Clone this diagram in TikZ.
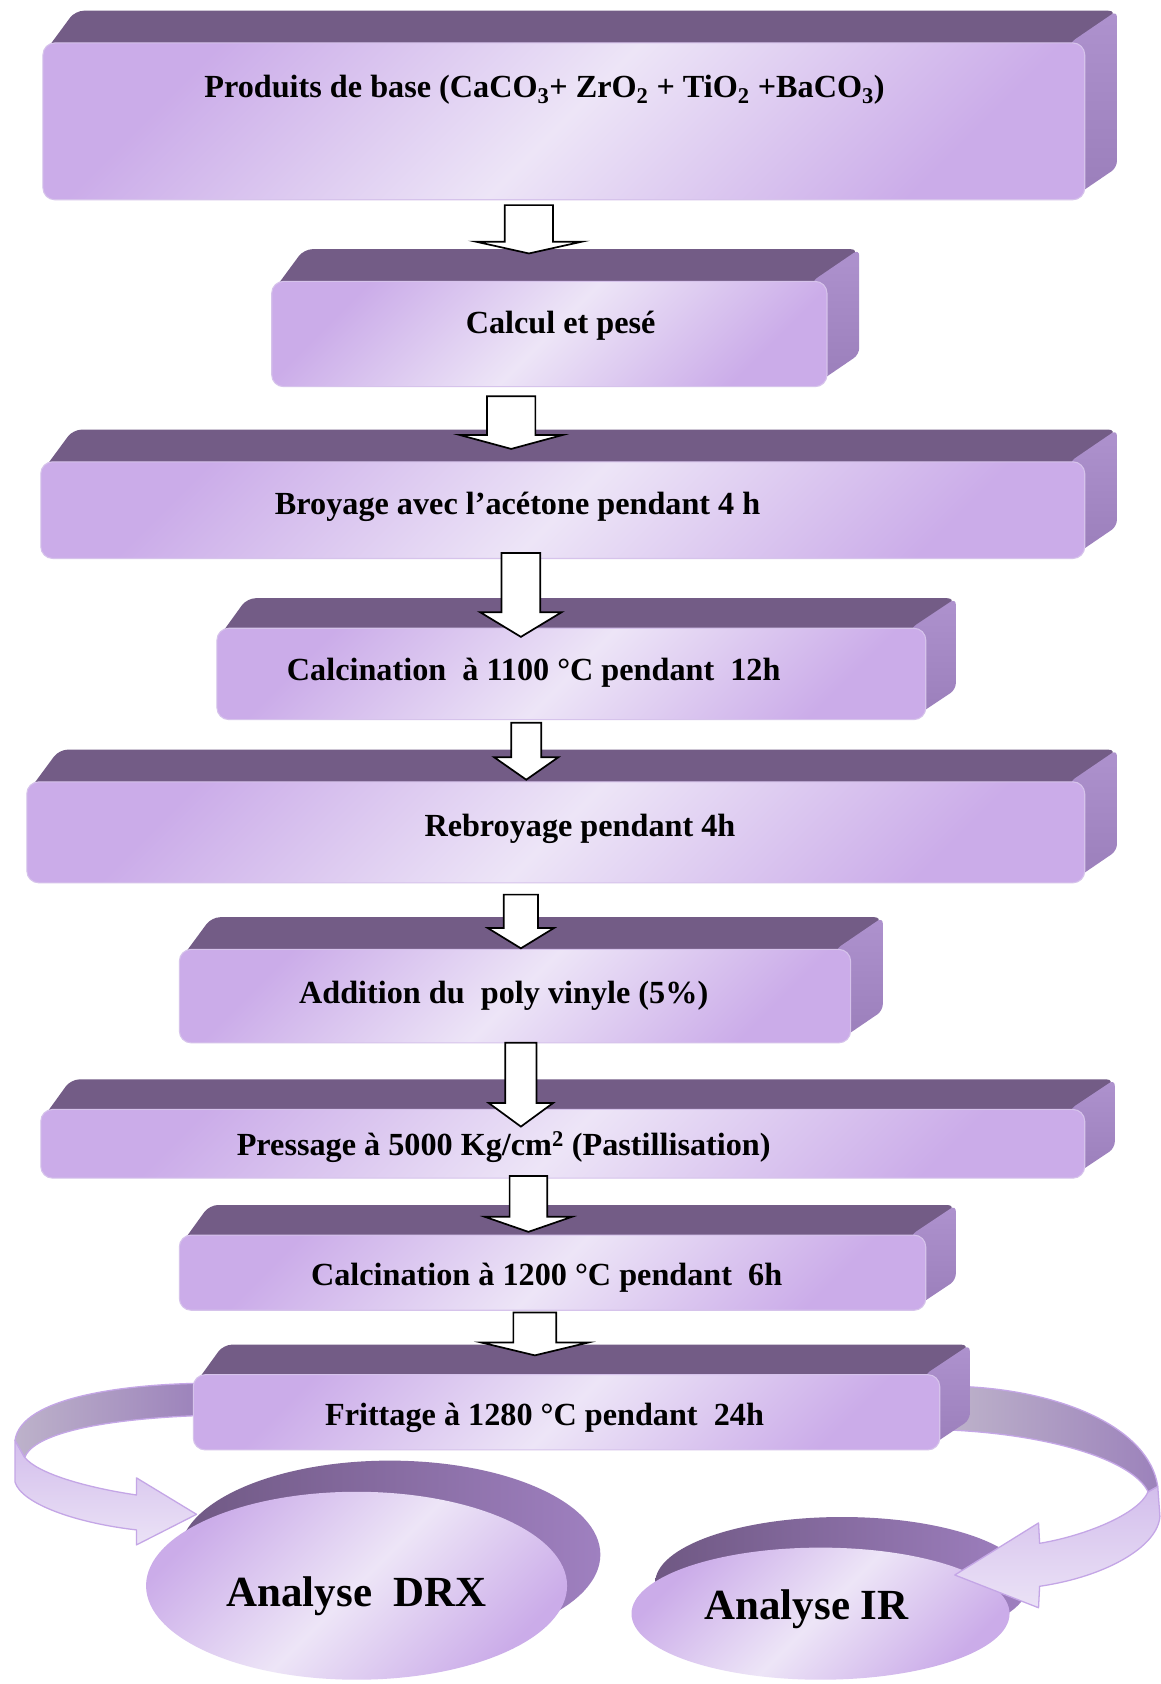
\documentclass[tikz,border=0pt]{standalone}
\usepackage{fontspec}
\setmainfont{Liberation Serif}
\usetikzlibrary{shapes.geometric}
\definecolor{topc}{HTML}{735C86}
\definecolor{sidea}{HTML}{AE92CE}
\definecolor{sideb}{HTML}{9A7EBA}
\definecolor{pu}{HTML}{CBACE9}
\definecolor{lt}{HTML}{EDE5F7}
\definecolor{edgec}{HTML}{D6C3EB}
\definecolor{ribg}{HTML}{BDB2CA}
\definecolor{ribp}{HTML}{9C82BB}
\definecolor{ribt}{HTML}{D3BEEC}
\definecolor{ribb}{HTML}{EBE2F6}
\definecolor{ribe}{HTML}{C4A6E6}
\definecolor{dbl}{HTML}{6F5883}
\definecolor{dbr}{HTML}{9F80C0}
\tikzset{
 topface/.style={fill=topc, rounded corners=8pt},
 sideface/.style={top color=sidea, bottom color=sideb, rounded corners=6pt},
 frontface/.style={rectangle, rounded corners=11pt, left color=pu, right color=pu, middle color=lt, shading angle=45, draw=edgec, line width=1pt, inner sep=0pt},
 lbl/.style={font=\fontsize{30}{36}\selectfont\bfseries, inner sep=0pt},
 biglbl/.style={font=\fontsize{40}{48}\selectfont\bfseries, inner sep=0pt, anchor=base},
 barr/.style={draw=black, fill=white, line width=1.6pt, line join=miter},
 ribup/.style={left color=ribg, right color=ribp, draw=ribe, line width=1.2pt, line join=round},
 riblow/.style={top color=ribt, bottom color=ribb, draw=ribe, line width=1.2pt, line join=round},
 discback/.style={ellipse, left color=dbl, right color=dbr, inner sep=0pt},
 discfront/.style={ellipse, left color=pu, right color=pu, middle color=lt, shading angle=45, inner sep=0pt}
}
% #1 name, #2 x1, #3 y1, #4 x2, #5 y2, #6 depth
\newcommand\mkslab[6]{%
 \path[topface] ({#2+2},{#3+8}) -- ({#2+#6},{#3-#6}) -- ({#4+#6},{#3-#6}) -- ({#4-6},{#3+8}) -- cycle;
 \path[sideface] ({#4-14},{#3}) -- ({#4+#6},{#3-#6}) -- ({#4+#6},{#5-#6}) -- ({#4-14},{#5}) -- cycle;
 \node[frontface, minimum width={#4-#2}, minimum height={#5-#3}] (#1) at ({(#2+#4)/2},{(#3+#5)/2}) {};
}
% #1 cx, #2 ytop, #3 yhead, #4 ytip, #5 half shaft, #6 half head
\newcommand\mkarrow[6]{%
 \draw[barr] ({#1-#5},{#2}) -- ({#1+#5},{#2}) -- ({#1+#5},{#3}) -- ({#1+#6},{#3}) -- ({#1},{#4}) -- ({#1-#6},{#3}) -- ({#1-#5},{#3}) -- cycle;
}
\begin{document}
\begin{tikzpicture}[x=1pt,y=-1pt]
\useasboundingbox (0,0) rectangle (1081,1568);
\fill[white] (0,0) rectangle (1081,1568);

% analysis discs
\node[discback, minimum width=392, minimum height=175] (drxb) at (363,1447.5) {};
\node[discfront, minimum width=392, minimum height=175] (drx) at (332,1476.5) {};
\node[biglbl] (tdrx) at (332,1496) {Analyse~ DRX};
\node[discback, minimum width=348, minimum height=123] (irb) at (784,1474) {};
\node[discfront, minimum width=352, minimum height=123] (ir) at (764,1502.5) {};
\node[biglbl] (tir) at (751,1508) {Analyse IR};

% ribbon arrows (left: to DRX)
\path[riblow] (14,1341) -- (14,1380) .. controls (20,1400) and (70,1418) .. (127,1424.5)
  -- (127,1438.5) -- (183,1410) -- (127,1376) -- (127,1392)
  .. controls (80,1385) and (35,1372) .. (23,1357) -- cycle;
\path[ribup] (186,1288) .. controls (120,1289) and (20,1300) .. (14,1341)
  -- (23,1357) .. controls (30,1338) and (80,1322) .. (186,1318) -- cycle;
% ribbon arrows (right: to IR)
\path[riblow] (1078,1384) -- (1080,1412) .. controls (1078,1440) and (1030,1468) .. (968,1477)
  -- (967,1497) -- (889,1466.5) -- (967,1418) -- (968,1437)
  .. controls (1010,1430) and (1060,1410) .. (1069,1389) -- cycle;
\path[ribup] (897,1291) .. controls (990,1295) and (1070,1330) .. (1078,1384)
  -- (1069,1389) .. controls (1055,1360) and (980,1336) .. (885,1331.5) -- cycle;

% slabs
\mkslab{b1}{40}{40}{1010}{186}{30}
\mkslab{b2}{253}{262}{770}{360}{30}
\mkslab{b3}{38}{430}{1010}{520}{30}
\mkslab{b4}{202}{585}{862}{670}{28}
\mkslab{b5}{25}{728}{1010}{822}{30}
\mkslab{b6}{167}{884}{792}{971}{30}
\mkslab{b7}{38}{1033}{1010}{1097}{28}
\mkslab{b8}{167}{1150}{862}{1220}{28}
\mkslab{b9}{180}{1280}{875}{1350}{28}

% labels
\node[lbl] (t1) at (507,84) {Produits de base (CaCO\textsubscript{3}+ ZrO\textsubscript{2} + TiO\textsubscript{2} +BaCO\textsubscript{3})};
\node[lbl] (t2) at (522,303) {Calcul et pesé};
\node[lbl] (t3) at (482,472) {Broyage avec l’acétone pendant 4 h};
\node[lbl] (t4) at (497,626) {Calcination~ à 1100 °C pendant~ 12h};
\node[lbl] (t5) at (540,772) {Rebroyage pendant 4h};
\node[lbl] (t6) at (469,927) {Addition du~ poly vinyle (5\%)};
\node[lbl] (t7) at (469,1068) {Pressage à 5000 Kg/cm\textsuperscript{2} (Pastillisation)};
\node[lbl] (t8) at (509,1190) {Calcination à 1200 °C pendant~ 6h};
\node[lbl] (t9) at (507,1320) {Frittage à 1280 °C pendant~ 24h};

% block arrows
\mkarrow{492.5}{191}{225}{236}{22.5}{49.5}
\mkarrow{476}{369}{405}{418}{22.5}{48}
\mkarrow{485}{515}{570}{593}{18}{38}
\mkarrow{490}{673}{705}{726}{14}{30}
\mkarrow{485}{833}{864}{883}{16}{31}
\mkarrow{485}{971}{1027}{1049}{14.5}{30}
\mkarrow{492}{1095}{1133}{1147}{17.5}{40.5}
\mkarrow{498}{1222}{1250}{1262}{20}{50}
\end{tikzpicture}
\end{document}
